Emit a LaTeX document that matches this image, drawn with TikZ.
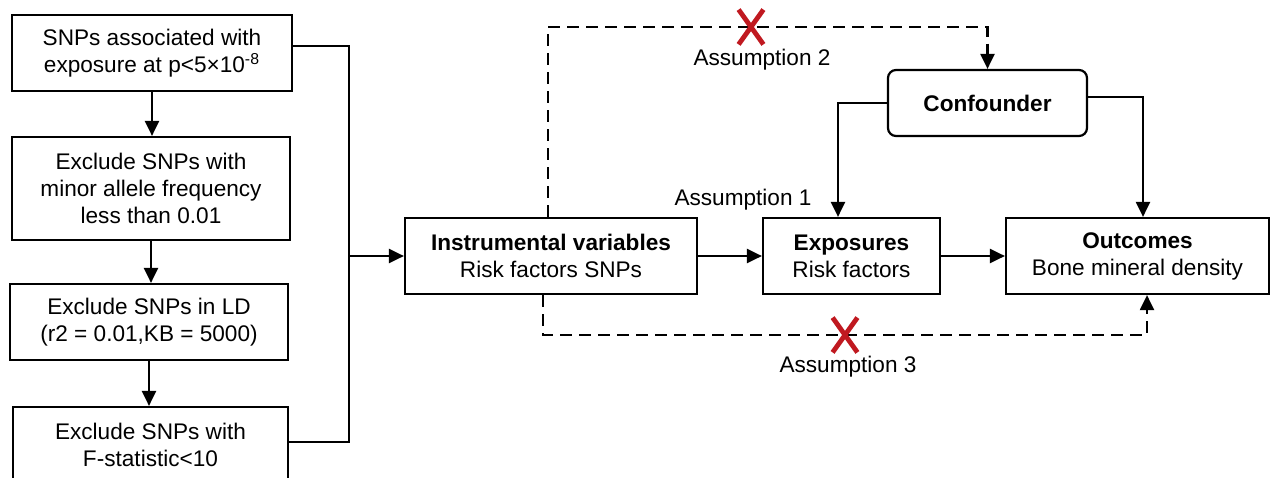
\documentclass[tikz,border=0pt]{standalone}
\usepackage{fontspec}
\setmainfont{Liberation Sans}
\usetikzlibrary{arrows.meta,shapes.misc}
\definecolor{CrossRed}{RGB}{192,25,32}

\begin{document}
\begin{tikzpicture}[x=0.5pt,y=-0.5pt,
  box/.style={draw,line width=1.1pt,inner sep=0pt,align=center,
              font=\fontsize{11.3}{13.5}\selectfont},
  arr/.style={-{Triangle[length=7.5pt,width=7pt]},line width=1.1pt},
  dsh/.style={dash pattern=on 6pt off 3.5pt,line width=1.2pt},
  nogo/.style={cross out,draw=CrossRed,line width=2.4pt,
               minimum width=10pt,minimum height=15pt,inner sep=0pt},
  lbl/.style={font=\fontsize{11.3}{13.5}\selectfont},
]
\useasboundingbox (0,0) rectangle (1274,477);
\node[box,minimum width=140pt,minimum height=38pt] (b1) at (152,53)
  {SNPs associated with\\exposure at p<5×10\textsuperscript{-8}};
\node[box,minimum width=139pt,minimum height=51.5pt] (b2) at (151,188.5)
  {Exclude SNPs with\\minor allele frequency\\less than 0.01};
\node[box,minimum width=139pt,minimum height=38pt] (b3) at (149,322)
  {Exclude SNPs in LD\\(r2 = 0.01,KB = 5000)};
\node[box,minimum width=137.5pt,minimum height=38pt] (b4) at (150.5,445)
  {Exclude SNPs with\\F-statistic<10};
\node[box,minimum width=146pt,minimum height=38pt] (iv) at (551,256)
  {\textbf{Instrumental variables}\\Risk factors SNPs};
\node[box,minimum width=88.5pt,minimum height=38pt] (exp) at (851.5,256)
  {\textbf{Exposures}\\Risk factors};
\node[box,minimum width=131.5pt,minimum height=38pt] (out) at (1137.5,256)
  {\textbf{Outcomes}\\Bone mineral density};
\node[box,rounded corners=4pt,minimum width=99.5pt,minimum height=33pt] (conf) at (987.5,103)
  {\textbf{Confounder}};
\draw[arr] (b1.south) -- (b1.south |- b2.north);
\draw[arr] (b2.south) -- (b2.south |- b3.north);
\draw[arr] (b3.south) -- (b3.south |- b4.north);
\coordinate (jn) at (349,256);
\draw[line width=1.1pt] ([yshift=3.5pt]b1.east) -| (jn);
\draw[line width=1.1pt] ([yshift=1.5pt]b4.east) -| (jn);
\draw[arr] (jn) -- (iv.west);
\draw[arr] (iv) -- (exp);
\draw[arr] (exp) -- (out);
\draw[arr] (conf.west) -| ([xshift=-6.75pt]exp.north);
\draw[arr] ([yshift=3pt]conf.east) -| ([xshift=2.75pt]out.north);
\coordinate (a2) at (751,27);
\coordinate (a3) at (845,335);
\draw[dsh,arr] ([xshift=-1.5pt]iv.north) |- (a2) -| (conf.north);
\draw[dsh,arr] ([xshift=-4pt]iv.south) |- (a3) -| ([xshift=4.75pt]out.south);
\node[nogo] (x2) at (a2) {};
\node[nogo] (x3) at (a3) {};
\node[lbl] (as1) at (743,200) {Assumption 1};
\node[lbl] (as2) at (762,60) {Assumption 2};
\node[lbl] (as3) at (848,367) {Assumption 3};
\end{tikzpicture}
\end{document}
